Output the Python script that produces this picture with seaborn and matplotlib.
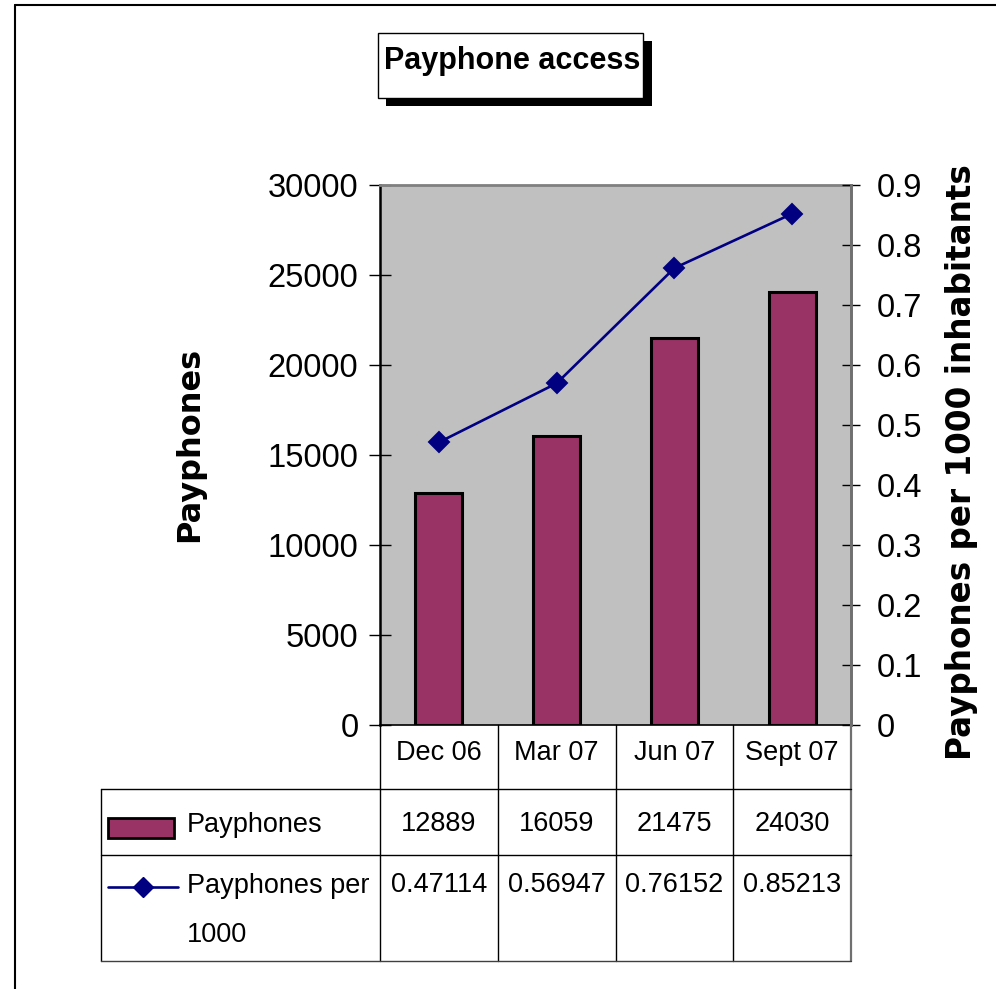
import numpy as np
import pandas as pd
import matplotlib
matplotlib.use("Agg")
import matplotlib.pyplot as plt
import seaborn as sns
from matplotlib import font_manager as fm
from matplotlib.patches import Rectangle
from matplotlib.lines import Line2D
from matplotlib.transforms import blended_transform_factory

# ---------------- data ----------------
categories = ["Dec 06", "Mar 07", "Jun 07", "Sept 07"]
payphones = [12889, 16059, 21475, 24030]
per_1000 = [0.47114, 0.56947, 0.76152, 0.85213]
left_ticks = [0, 5000, 10000, 15000, 20000, 25000, 30000]
right_ticks = [0, 0.1, 0.2, 0.3, 0.4, 0.5, 0.6, 0.7, 0.8, 0.9]
title = "Payphone access"
left_label = "Payphones"
right_label = "Payphones per 1000 inhabitants"
series_names = ["Payphones", "Payphones per\n1000"]

BAR_COLOR = "#993366"
LINE_COLOR = "#000080"

sns.set_style("white")
names = {f.name for f in fm.fontManager.ttflist}
REG = "Liberation Sans" if "Liberation Sans" in names else "DejaVu Sans"
NARROW = "Liberation Sans Narrow" if "Liberation Sans Narrow" in names else REG
narrow_size = 22.5 if NARROW == "Liberation Sans Narrow" else 19.5
plt.rcParams["font.family"] = [REG, "DejaVu Sans"]
for k in ("text.color", "axes.labelcolor", "xtick.color", "ytick.color"):
    plt.rcParams[k] = "black"

W, H = 996, 989
fig = plt.figure(figsize=(W / 100, H / 100), dpi=100)
fig.patch.set_facecolor("white")

def fx(x):
    return x / W

def fy(y):
    return 1 - y / H

# main axes: plot area px 380..851 x, 185..725 y
ax = fig.add_axes([fx(380), fy(725), fx(851) - fx(380), fy(185) - fy(725)])
ax.set_facecolor("#C0C0C0")

df = pd.DataFrame({"cat": categories, "pay": payphones, "per": per_1000})
sns.barplot(data=df, x="cat", y="pay", ax=ax, color=BAR_COLOR, saturation=1,
            edgecolor="black", linewidth=2.2, width=0.4, zorder=2)

ax2 = ax.twinx()
sns.pointplot(data=df, x="cat", y="per", ax=ax2, color=LINE_COLOR, markers="D",
              markersize=10, linewidth=1.9, errorbar=None, zorder=3)

for a in (ax, ax2):
    a.set_xlim(-0.5, 3.5)
    a.set_xlabel("")
    a.set_ylabel("")

ax.set_ylim(0, 30000)
ax.set_yticks(left_ticks)
ax.set_yticklabels([str(t) for t in left_ticks])
ax2.set_ylim(0, 0.9)
ax2.set_yticks(right_ticks)
ax2.set_yticklabels([f"{t:g}" for t in right_ticks])

ax.tick_params(axis="y", direction="inout", length=16, width=1, color="black",
               labelsize=23.5, pad=7.5, labelcolor="black")
ax2.tick_params(axis="y", direction="inout", length=13.5, width=1, color="black",
                labelsize=23.5, pad=11.5, labelcolor="black")
ax2.tick_params(axis="x", length=0, labelbottom=False)

ax.set_xticks(range(len(categories)))
ax.set_xticklabels(categories, fontfamily=NARROW, fontsize=narrow_size)
ax.tick_params(axis="x", length=0, pad=10.5, labelcolor="black")

for s in ("top", "right"):
    ax.spines[s].set_color("#808080")
    ax.spines[s].set_linewidth(2)
ax.spines["left"].set_color("black")
ax.spines["left"].set_linewidth(1.8)
ax.spines["bottom"].set_color("black")
ax.spines["bottom"].set_linewidth(1.2)
for s in ("left", "top", "bottom"):
    ax2.spines[s].set_visible(False)
ax2.spines["right"].set_color("#707070")
ax2.spines["right"].set_linewidth(2)

# ---------------- data table ----------------
bt = blended_transform_factory(ax.transData, fig.transFigure)
for i, xc in enumerate([-0.5, 0.5, 1.5, 2.5, 3.5]):
    col = "#707070" if i == 4 else "black"
    lw = 1.6 if i == 4 else 1
    fig.add_artist(Line2D([xc, xc], [fy(725), fy(961)], transform=bt, color=col, lw=lw))
fig.add_artist(Line2D([fx(101), fx(101)], [fy(789), fy(961)], transform=fig.transFigure,
                      color="black", lw=1))
for yy in (789, 855, 961):
    fig.add_artist(Line2D([fx(101), fx(851)], [fy(yy), fy(yy)], transform=fig.transFigure,
                          color="#404040" if yy == 961 else "black", lw=1))

# legend keys
fig.add_artist(Rectangle((fx(108), fy(838)), fx(174) - fx(108), fy(818) - fy(838),
                         transform=fig.transFigure, facecolor=BAR_COLOR,
                         edgecolor="black", lw=2))
fig.add_artist(Line2D([fx(108), fx(178)], [fy(887), fy(887)], transform=fig.transFigure,
                      color=LINE_COLOR, lw=1.9))
fig.add_artist(Line2D([fx(143)], [fy(887)], transform=fig.transFigure, color=LINE_COLOR,
                      marker="D", markersize=10, lw=0))
fig.text(fx(187), fy(825), series_names[0], ha="left", va="center",
         fontfamily=NARROW, fontsize=narrow_size)
name2 = series_names[1].split("\n")
fig.text(fx(187), fy(886), name2[0], ha="left", va="center",
         fontfamily=NARROW, fontsize=narrow_size)
fig.text(fx(187), fy(935), name2[1], ha="left", va="center",
         fontfamily=NARROW, fontsize=narrow_size)

for i, v in enumerate(payphones):
    fig.text(i, fy(824), f"{v}", transform=bt,
             ha="center", va="center", fontfamily=NARROW, fontsize=narrow_size)
for i, v in enumerate(per_1000):
    fig.text(i, fy(885), f"{v:.5f}", transform=bt,
             ha="center", va="center", fontfamily=NARROW, fontsize=narrow_size)

# ---------------- axis titles ----------------
fig.text(fx(190), fy(444), left_label, rotation=90, ha="center", va="center",
         fontsize=23, fontweight="bold", fontfamily=["DejaVu Sans"])
fig.text(fx(961), fy(462), right_label, rotation=90, ha="center", va="center",
         fontsize=23.5, fontweight="bold", fontfamily=["DejaVu Sans"])

# ---------------- title box ----------------
fig.add_artist(Rectangle((fx(386), fy(106)), fx(652) - fx(386), fy(41) - fy(106),
                         transform=fig.transFigure, facecolor="black", edgecolor="black", lw=0))
fig.add_artist(Rectangle((fx(378), fy(98)), fx(643) - fx(378), fy(33) - fy(98),
                         transform=fig.transFigure, facecolor="white", edgecolor="black", lw=1))
fig.text(fx(512), fy(69), title, ha="center", va="baseline", fontsize=22, fontweight="bold")

# ---------------- outer border ----------------
fig.add_artist(Line2D([fx(15), fx(15)], [fy(5), fy(989)], transform=fig.transFigure,
                      color="black", lw=1.5))
fig.add_artist(Line2D([fx(15), fx(996)], [fy(5), fy(5)], transform=fig.transFigure,
                      color="black", lw=1.5))

fig.savefig("out.png", dpi=100)
